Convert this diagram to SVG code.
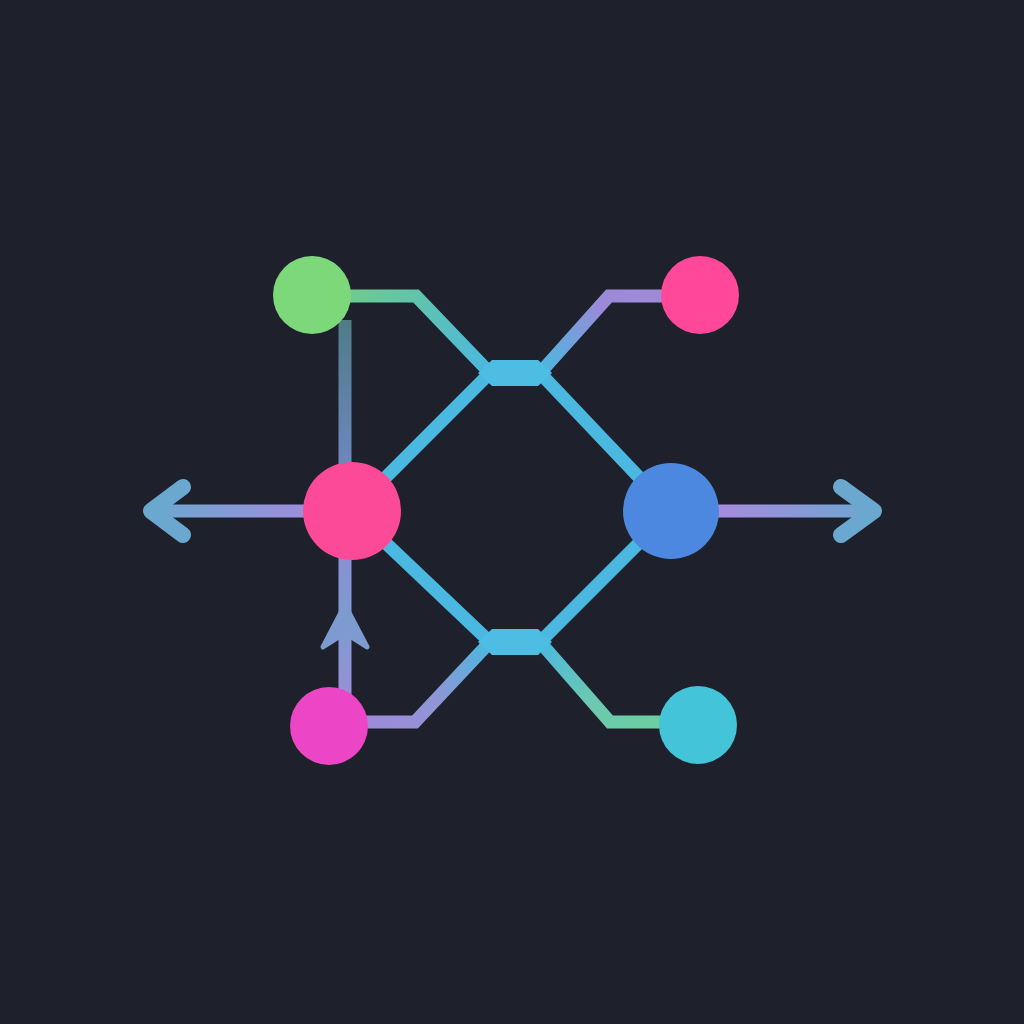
<svg xmlns="http://www.w3.org/2000/svg" width="1024" height="1024" viewBox="0 0 1024 1024">
<defs>
<linearGradient id="gTL" gradientUnits="userSpaceOnUse" x1="350" y1="296" x2="490" y2="373"><stop offset="0" stop-color="#6ecb8e"/><stop offset="1" stop-color="#4ab8e0"/></linearGradient>
<linearGradient id="gTR" gradientUnits="userSpaceOnUse" x1="665" y1="296" x2="540" y2="373"><stop offset="0" stop-color="#a08ad8"/><stop offset="0.4" stop-color="#9a8ad8"/><stop offset="1" stop-color="#4ab8e0"/></linearGradient>
<linearGradient id="gBL" gradientUnits="userSpaceOnUse" x1="365" y1="722" x2="490" y2="642"><stop offset="0" stop-color="#9f8ad8"/><stop offset="0.5" stop-color="#8f96d6"/><stop offset="1" stop-color="#4ab8e0"/></linearGradient>
<linearGradient id="gBR" gradientUnits="userSpaceOnUse" x1="665" y1="722" x2="540" y2="642"><stop offset="0" stop-color="#6ccf9e"/><stop offset="0.5" stop-color="#6cc8b0"/><stop offset="1" stop-color="#4ab8e0"/></linearGradient>
<linearGradient id="gV1" gradientUnits="userSpaceOnUse" x1="345" y1="320" x2="345" y2="470"><stop offset="0" stop-color="#4f7c88"/><stop offset="1" stop-color="#6e88c0"/></linearGradient>
<linearGradient id="gV2" gradientUnits="userSpaceOnUse" x1="345" y1="555" x2="345" y2="700"><stop offset="0" stop-color="#8a90d4"/><stop offset="0.5" stop-color="#7e9bd0"/><stop offset="1" stop-color="#9a8ed8"/></linearGradient>
<linearGradient id="gAL" gradientUnits="userSpaceOnUse" x1="310" y1="511" x2="150" y2="511"><stop offset="0" stop-color="#a08cdc"/><stop offset="1" stop-color="#6aa8d0"/></linearGradient>
<linearGradient id="gAR" gradientUnits="userSpaceOnUse" x1="715" y1="511" x2="880" y2="511"><stop offset="0" stop-color="#a98ae0"/><stop offset="1" stop-color="#6aa8d0"/></linearGradient>
</defs>
<style>
.ln{fill:none;stroke-width:13;stroke-linejoin:miter}
.dia{fill:none;stroke:#4ab8e0;stroke-width:13}
.chev{fill:none;stroke:#6aa8d0;stroke-width:16;stroke-linecap:round;stroke-linejoin:round}
.hub{fill:#4dbde3}
</style>
<rect width="1024" height="1024" fill="#1e212b"/>
<g id="connectors">
<path class="ln" stroke="url(#gV1)" d="M345,320 V470"/>
<path class="ln" stroke="url(#gV2)" d="M345,555 V700"/>
<path d="M345,605 L367,647 L345,633 L323,647 Z" fill="#7e9bd0" stroke="#7e9bd0" stroke-width="5" stroke-linejoin="round"/>
<path class="ln" stroke="url(#gTL)" d="M345,296 H416 L490,373"/>
<path class="ln" stroke="url(#gTR)" d="M665,296 H609 L540,373"/>
<path class="ln" stroke="url(#gBL)" d="M365,722 H415 L490,642"/>
<path class="ln" stroke="url(#gBR)" d="M665,722 H610 L540,642"/>
<path class="dia" d="M352,511 L490,373 M352,511 L490,642 M671,511 L540,373 M671,511 L540,642"/>
<polygon class="hub" points="478,373 492,360 538,360 552,373 538,386 492,386"/>
<polygon class="hub" points="478,642 492,629 538,629 552,642 538,655 492,655"/>
<path class="ln" stroke="url(#gAL)" d="M310,511 H155"/>
<path class="chev" d="M183,487 L151,511 L183,535"/>
<path class="ln" stroke="url(#gAR)" d="M715,511 H870"/>
<path class="chev" d="M841,487 L874,511 L841,535"/>
</g>
<g id="node-green"><circle cx="312" cy="295" r="39" fill="#7dd87a"/></g>
<g id="node-pink-top"><circle cx="700" cy="295" r="39" fill="#ff4899"/></g>
<g id="node-pink-center"><circle cx="352" cy="511" r="49" fill="#fc4a98"/></g>
<g id="node-blue"><circle cx="671" cy="511" r="48" fill="#4d88e0"/></g>
<g id="node-magenta"><circle cx="329" cy="726" r="39" fill="#ec46c6"/></g>
<g id="node-cyan"><circle cx="698" cy="725" r="39" fill="#44c4d8"/></g>
</svg>
